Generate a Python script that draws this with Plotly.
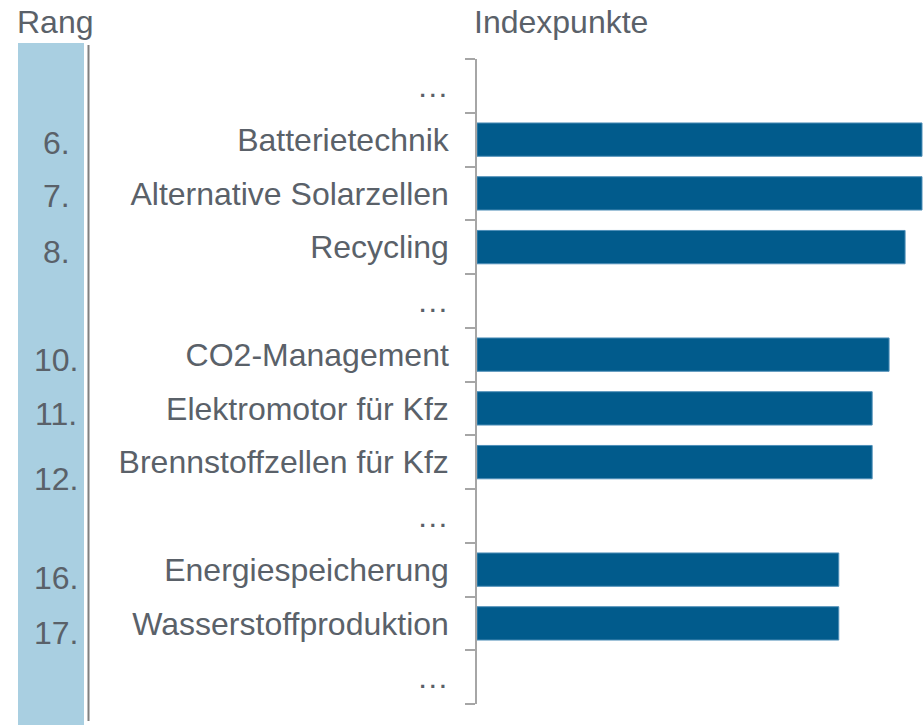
import plotly.graph_objects as go

# Data
cat_ids = ["gap1", "Batterietechnik", "Alternative Solarzellen", "Recycling", "gap2",
           "CO2-Management", "Elektromotor für Kfz", "Brennstoffzellen für Kfz", "gap3",
           "Energiespeicherung", "Wasserstoffproduktion", "gap4"]
cat_labels = ["…", "Batterietechnik", "Alternative Solarzellen", "Recycling", "…",
              "CO2-Management", "Elektromotor für Kfz", "Brennstoffzellen für Kfz", "…",
              "Energiespeicherung", "Wasserstoffproduktion", "…"]
values = [None, 100, 100, 96.2, None, 92.6, 88.8, 88.8, None, 81.3, 81.3, None]
ranks = ["", "6.", "7.", "8.", "", "10.", "11.", "12.", "", "16.", "17.", ""]

W, H = 924, 725


def px(x):
    return x / W


def py(y):
    return 1 - y / H


TEXT = "#5a6169"
FONT = "Liberation Sans, Arial, sans-serif"
FS = 32

# downward offset (px) of each rank label from its row centre
rank_drop = {"6.": 3, "7.": 3, "8.": 5, "10.": 5, "11.": 6, "12.": 17, "16.": 8, "17.": 10}

fig = go.Figure()
fig.add_trace(go.Bar(
    y=cat_ids, x=values, orientation="h",
    marker=dict(color="#015b8c", line=dict(color="#4f8fb8", width=1)),
    hoverinfo="skip",
))

fig.update_layout(
    width=W, height=H,
    margin=dict(l=0, r=0, t=0, b=0),
    paper_bgcolor="white", plot_bgcolor="white",
    showlegend=False,
    bargap=0.38,
    font=dict(family=FONT, size=FS, color=TEXT),
    xaxis=dict(domain=[px(477), 1], range=[0, 100.45], visible=False, fixedrange=True),
    yaxis=dict(
        domain=[py(704), py(59)], type="category",
        categoryorder="array", categoryarray=cat_ids,
        autorange="reversed",
        tickmode="array", tickvals=cat_ids, ticktext=cat_labels,
        tickson="boundaries", ticks="outside", ticklen=10, tickcolor="#a6a6a6", tickwidth=1.5,
        showline=True, linecolor="#a6a6a6", linewidth=1.5,
        showgrid=False, zeroline=False,
        tickfont=dict(family=FONT, size=FS, color=TEXT),
        ticklabelstandoff=20,
        fixedrange=True,
    ),
)

# Rank column background and separator line
fig.add_shape(type="rect", xref="paper", yref="paper",
              x0=px(18), x1=px(84), y0=0, y1=py(43),
              fillcolor="#a9cfe1", line=dict(width=0), layer="below")
fig.add_shape(type="line", xref="paper", yref="paper",
              x0=px(88.5), x1=px(88.5), y0=py(721), y1=py(45),
              line=dict(color="#808080", width=2))

# Rank labels
for cid, r in zip(cat_ids, ranks):
    if not r:
        continue
    fig.add_annotation(x=px(56), xref="paper", y=cid, yref="y",
                       text=r, showarrow=False, xanchor="center", yanchor="middle",
                       yshift=-rank_drop.get(r, 5),
                       font=dict(family=FONT, size=FS, color=TEXT))

# Headers
fig.add_annotation(x=px(15), xref="paper", y=py(22), yref="paper",
                   text="Rang", showarrow=False, xanchor="left", yanchor="middle",
                   font=dict(family=FONT, size=FS, color=TEXT))
fig.add_annotation(x=px(472), xref="paper", y=py(22), yref="paper",
                   text="Indexpunkte", showarrow=False, xanchor="left", yanchor="middle",
                   font=dict(family=FONT, size=FS, color=TEXT))

fig.write_html(
    "out.html",
    config={"displayModeBar": False},
    post_script="document.body.style.margin='0';document.body.style.overflow='hidden';",
)
